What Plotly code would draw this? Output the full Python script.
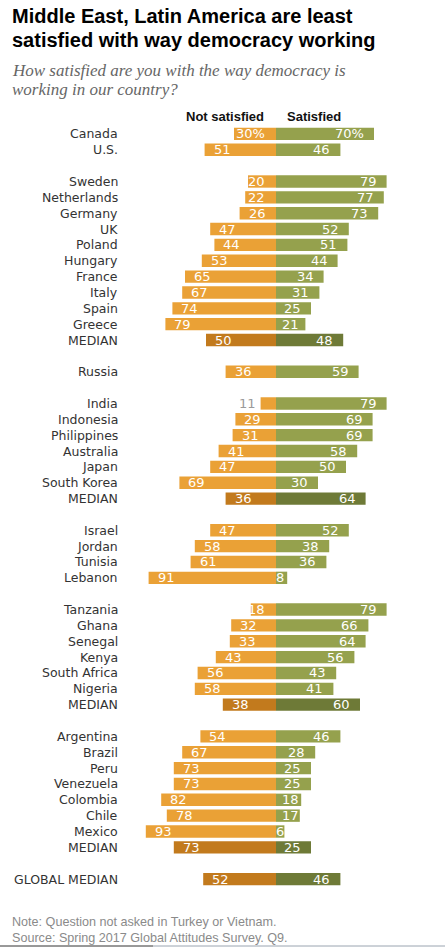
import plotly.graph_objects as go

countries = [
    "Canada", "U.S.",
    "Sweden", "Netherlands", "Germany", "UK", "Poland", "Hungary", "France",
    "Italy", "Spain", "Greece", "MEDIAN",
    "Russia",
    "India", "Indonesia", "Philippines", "Australia", "Japan", "South Korea", "MEDIAN",
    "Israel", "Jordan", "Tunisia", "Lebanon",
    "Tanzania", "Ghana", "Senegal", "Kenya", "South Africa", "Nigeria", "MEDIAN",
    "Argentina", "Brazil", "Peru", "Venezuela", "Colombia", "Chile", "Mexico", "MEDIAN",
    "GLOBAL MEDIAN",
]
not_satisfied = [
    30, 51,
    20, 22, 26, 47, 44, 53, 65, 67, 74, 79, 50,
    36,
    11, 29, 31, 41, 47, 69, 36,
    47, 58, 61, 91,
    18, 32, 33, 43, 56, 58, 38,
    54, 67, 73, 73, 82, 78, 93, 73,
    52,
]
satisfied = [
    70, 46,
    79, 77, 73, 52, 51, 44, 34, 31, 25, 21, 48,
    59,
    79, 69, 69, 58, 50, 30, 64,
    52, 38, 36, 8,
    79, 66, 64, 56, 43, 41, 60,
    46, 28, 25, 25, 18, 17, 6, 25,
    46,
]
group_sizes = [2, 11, 1, 7, 4, 7, 8, 1]

ORANGE = '#EAA136'
ORANGE_DARK = '#C27A1D'
GREEN = '#95A14D'
GREEN_DARK = '#6E7A37'

W, H = 445, 949
M_L, M_R, M_T, M_B = 136, 29, 126, 62
PLOT_W = W - M_L - M_R
PLOT_H = H - M_T - M_B
PX_PER_UNIT = PLOT_W / 200.0
DIGIT_W = 8.3


def xp(px):
    return (px - M_L) / PLOT_W


def yp(py):
    return (H - M_B - py) / PLOT_H


# one empty row between groups
slots = []
pos = 0
for size in group_sizes:
    for _ in range(size):
        slots.append(pos)
        pos += 1
    pos += 1

is_median = ['MEDIAN' in c for c in countries]
neg_colors = [ORANGE_DARK if m else ORANGE for m in is_median]
pos_colors = [GREEN_DARK if m else GREEN for m in is_median]

fig = go.Figure()
fig.add_trace(go.Bar(
    y=slots, x=[-v for v in not_satisfied], orientation='h',
    marker=dict(color=neg_colors, line=dict(width=0)),
    width=0.78, hoverinfo='skip',
))
fig.add_trace(go.Bar(
    y=slots, x=satisfied, orientation='h',
    marker=dict(color=pos_colors, line=dict(width=0)),
    width=0.78, hoverinfo='skip',
))

annotations = []
label_font = dict(family='DejaVu Sans', size=13, color='white')

for i, (name, y, ns, s) in enumerate(zip(countries, slots, not_satisfied, satisfied)):
    annotations.append(dict(
        x=xp(120), xref='paper', y=y, yref='y', text=name, showarrow=False,
        xanchor='right', yanchor='middle',
        font=dict(family='DejaVu Sans', size=12.5, color='#333333'),
    ))

    suffix = '%' if i == 0 else ''
    t_ns = f'{ns}{suffix}'
    t_s = f'{s}{suffix}'
    w_ns = DIGIT_W * len(str(ns)) + (11 if suffix else 0)
    w_s = DIGIT_W * len(str(s)) + (11 if suffix else 0)

    # not satisfied label
    if ns < 15:
        annotations.append(dict(
            x=-ns, y=y, xref='x', yref='y', text=t_ns, showarrow=False,
            xanchor='right', yanchor='middle', xshift=-3,
            font=dict(family='DejaVu Sans', size=13, color='#9a9a9a'),
        ))
    elif ns * PX_PER_UNIT - 8 - w_ns < 9:
        annotations.append(dict(
            x=0, y=y, xref='x', yref='y', text=t_ns, showarrow=False,
            xanchor='right', yanchor='middle', xshift=-9, font=label_font,
        ))
    else:
        annotations.append(dict(
            x=-ns, y=y, xref='x', yref='y', text=t_ns, showarrow=False,
            xanchor='left', yanchor='middle', xshift=7, font=label_font,
        ))

    # satisfied label
    if s < 10:
        annotations.append(dict(
            x=0, y=y, xref='x', yref='y', text=t_s, showarrow=False,
            xanchor='left', yanchor='middle', xshift=-2, font=label_font,
        ))
    elif s * PX_PER_UNIT - 9 < 5 + w_s:
        annotations.append(dict(
            x=0, y=y, xref='x', yref='y', text=t_s, showarrow=False,
            xanchor='left', yanchor='middle', xshift=4, font=label_font,
        ))
    else:
        annotations.append(dict(
            x=s, y=y, xref='x', yref='y', text=t_s, showarrow=False,
            xanchor='right', yanchor='middle', xshift=-8, font=label_font,
        ))

# headers
annotations.append(dict(
    x=xp(266), y=yp(117), xref='paper', yref='paper', text='<b>Not satisfied</b>',
    showarrow=False, xanchor='right', yanchor='middle',
    font=dict(family='Liberation Sans', size=13, color='#111111'),
))
annotations.append(dict(
    x=xp(285), y=yp(117), xref='paper', yref='paper', text='<b>Satisfied</b>',
    showarrow=False, xanchor='left', yanchor='middle',
    font=dict(family='Liberation Sans', size=13, color='#111111'),
))

# title and subtitle
title_lines = ['Middle East, Latin America are least', 'satisfied with way democracy working']
for line, cy in zip(title_lines, [16, 40]):
    annotations.append(dict(
        x=xp(10), y=yp(cy), xref='paper', yref='paper', text=f'<b>{line}</b>',
        showarrow=False, xanchor='left', yanchor='middle',
        font=dict(family='Liberation Sans', size=20, color='#000000'),
    ))
sub_lines = ['How satisfied are you with the way democracy is', 'working in our country?']
for line, cy in zip(sub_lines, [70, 89]):
    annotations.append(dict(
        x=xp(10), y=yp(cy), xref='paper', yref='paper', text=f'<i>{line}</i>',
        showarrow=False, xanchor='left', yanchor='middle',
        font=dict(family='Liberation Serif', size=17, color='#666666'),
    ))

# notes
note_lines = ['Note: Question not asked in Turkey or Vietnam.',
              'Source: Spring 2017 Global Attitudes Survey. Q9.']
for line, cy in zip(note_lines, [922, 938]):
    annotations.append(dict(
        x=xp(10), y=yp(cy), xref='paper', yref='paper', text=line,
        showarrow=False, xanchor='left', yanchor='middle',
        font=dict(family='Liberation Sans', size=12.6, color='#8a8a8a'),
    ))

fig.update_layout(
    width=W, height=H,
    margin=dict(l=M_L, r=M_R, t=M_T, b=M_B, pad=0),
    paper_bgcolor='white', plot_bgcolor='white',
    barmode='overlay', showlegend=False,
    xaxis=dict(range=[-100, 100], visible=False, fixedrange=True),
    yaxis=dict(range=[47.5, -0.5], visible=False, fixedrange=True),
    annotations=annotations,
    shapes=[
        dict(type='line', xref='paper', yref='paper', x0=xp(0), x1=xp(153),
             y0=yp(946), y1=yp(946), line=dict(color='#333333', width=1)),
        dict(type='line', xref='paper', yref='paper', x0=xp(153), x1=xp(445),
             y0=yp(946), y1=yp(946), line=dict(color='#9aa4b0', width=1)),
    ],
)

# drop the browser's default 8px body margin so the figure fills the window
fig.write_html('out.html', config={'displayModeBar': False},
               post_script="document.body.style.margin='0';")
